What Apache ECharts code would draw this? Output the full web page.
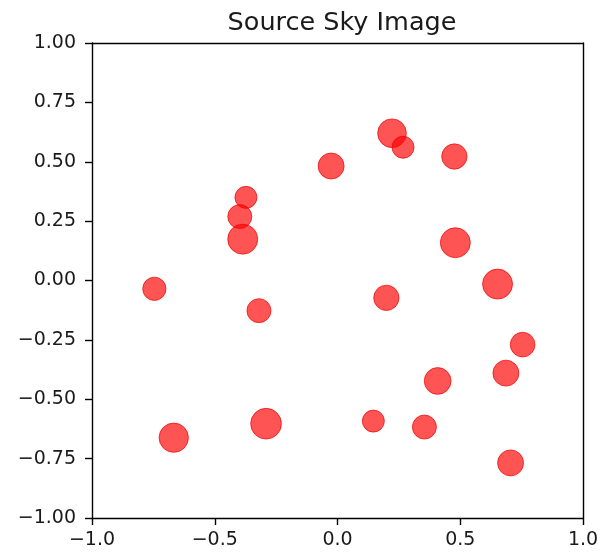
<!DOCTYPE html>
<html>
<head>
<meta charset="utf-8">
<script src="https://cdn.jsdelivr.net/npm/echarts@6/dist/echarts.min.js"></script>
<style>
  html, body { margin: 0; padding: 0; background: #fff; }
  #chart { width: 603px; height: 553px; }
</style>
</head>
<body>
<div id="chart"></div>
<script>
// Source positions (direction cosines l, m) and marker areas (pt^2)
const srcL = [0.222, 0.267, 0.476, -0.026, -0.373, -0.398, -0.386, 0.480, -0.746, 0.652,
              0.199, -0.320, 0.754, 0.686, 0.408, -0.291, 0.146, 0.354, -0.667, 0.705];
const srcM = [0.620, 0.561, 0.522, 0.482, 0.350, 0.269, 0.174, 0.159, -0.035, -0.015,
              -0.073, -0.127, -0.270, -0.390, -0.423, -0.603, -0.592, -0.617, -0.662, -0.768];
const srcArea = [427, 251, 332, 350, 251, 299, 466, 466, 281, 466,
                 332, 299, 316, 350, 370, 489, 251, 299, 445, 350];

const xTicks = [-1.0, -0.5, 0.0, 0.5, 1.0];
const yTicks = [-1.00, -0.75, -0.50, -0.25, 0.00, 0.25, 0.50, 0.75, 1.00];

const points = srcL.map((l, i) => [l, srcM[i], srcArea[i]]);
const minus = s => s.replace('-', '\u2212');
const font = 'DejaVu Sans';
const ink = '#1a1a1a';
const lineW = 1.4;

// Bottom/left axes carry ticks and labels; top/right only close the frame
const frameAxis = (extra) => Object.assign({
  type: 'value',
  splitLine: { show: false },
  axisLine: { show: true, onZero: false, lineStyle: { color: '#000', width: lineW } },
  axisTick: { show: false },
  axisLabel: { show: false }
}, extra);

const chart = echarts.init(document.getElementById('chart'), null, { renderer: 'canvas' });
chart.setOption({
  animation: false,
  backgroundColor: '#fff',
  title: {
    text: 'Source Sky Image',
    left: 337, top: 5, textAlign: 'center',
    textStyle: { fontFamily: font, fontSize: 25.5, fontWeight: 'normal', color: ink }
  },
  grid: { left: 92, right: 20, top: 43, bottom: 35 },
  xAxis: [{
    type: 'value', min: xTicks[0], max: xTicks[xTicks.length - 1], interval: 0.5,
    splitLine: { show: false },
    axisLine: { show: true, onZero: false, lineStyle: { color: '#000', width: lineW } },
    axisTick: { show: true, length: 7, lineStyle: { color: '#000', width: lineW } },
    axisLabel: { fontFamily: font, fontSize: 19, color: ink, margin: 13,
                 formatter: v => minus(v.toFixed(1)) }
  }, frameAxis({ position: 'top', min: xTicks[0], max: xTicks[xTicks.length - 1] })],
  yAxis: [{
    type: 'value', min: yTicks[0], max: yTicks[yTicks.length - 1], interval: 0.25,
    splitLine: { show: false },
    axisLine: { show: true, onZero: false, lineStyle: { color: '#000', width: lineW } },
    axisTick: { show: true, length: 7, lineStyle: { color: '#000', width: lineW } },
    axisLabel: { fontFamily: font, fontSize: 19, color: ink, margin: 16,
                 formatter: v => minus(v.toFixed(2)) }
  }, frameAxis({ position: 'right', min: yTicks[0], max: yTicks[yTicks.length - 1] })],
  series: [{
    type: 'scatter',
    data: points,
    symbol: 'circle',
    symbolSize: d => Math.sqrt(d[2]) * 100 / 72,
    itemStyle: { color: 'rgba(255,0,0,0.84)', borderColor: 'rgba(235,0,0,0.85)', borderWidth: 1 }
  }]
});
</script>
</body>
</html>
